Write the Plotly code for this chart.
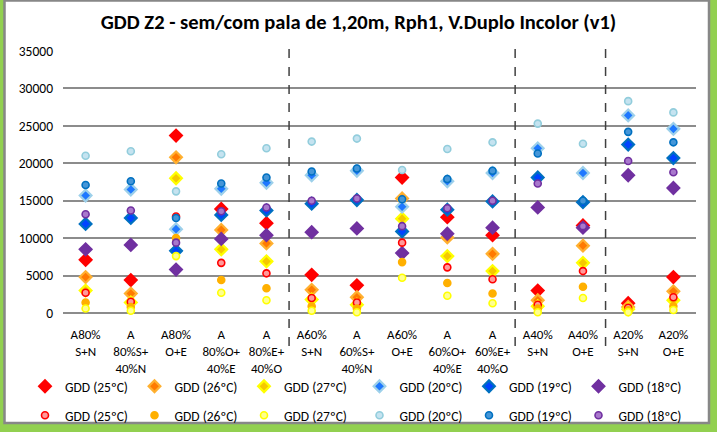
import plotly.graph_objects as go

categories = ["A80%<br>S+N", "A<br>80%S+<br>40%N", "A80%<br>O+E", "A<br>80%O+<br>40%E", "A<br>80%E+<br>40%O",
              "A60%<br>S+N", "A<br>60%S+<br>40%N", "A60%<br>O+E", "A<br>60%O+<br>40%E", "A<br>60%E+<br>40%O",
              "A40%<br>S+N", "A40%<br>O+E", "A20%<br>S+N", "A20%<br>O+E"]

# diamond series (sem pala)
d25 = [7100, 4400, 23700, 13900, 12000, 5100, 3700, 18100, 12800, 10400, 3000, 11700, 1300, 4800]
d26 = [4800, 2600, 20800, 11100, 9300, 3100, 2100, 15300, 10100, 7900, 1700, 9000, 800, 2900]
d27 = [3000, 1400, 18000, 8500, 6900, 1800, 1100, 12600, 7600, 5600, 900, 6700, 500, 1700]
d20 = [15700, 16500, 11200, 16600, 17400, 18400, 19000, 14200, 17600, 18700, 22000, 18700, 26400, 24600]
d19 = [11900, 12700, 8300, 13100, 13700, 14600, 15100, 10900, 13800, 14900, 18100, 14800, 22500, 20700]
d18 = [8500, 9100, 5800, 9900, 10400, 10800, 11300, 8000, 10600, 11400, 14100, 11400, 18400, 16700]
# circle series (com pala)
c25 = [2700, 1500, 12900, 6700, 5300, 2000, 1400, 9400, 6100, 4500, 1100, 5600, 700, 2100]
c26 = [1400, 800, 10000, 4400, 3300, 900, 600, 6800, 4000, 2600, 600, 3500, 350, 900]
c27 = [600, 300, 7600, 2700, 1700, 300, 100, 4700, 2300, 1300, 100, 2000, 100, 400]
c20 = [21000, 21600, 16250, 21200, 22000, 22900, 23300, 19100, 21900, 22800, 25300, 22600, 28300, 26800]
c19 = [17100, 17600, 12700, 17300, 18100, 18900, 19300, 15200, 17900, 19000, 21300, 15000, 24200, 22800]
c18 = [13200, 13700, 9400, 13600, 14100, 15000, 15300, 11600, 14000, 15000, 17300, 11600, 20300, 18800]

separators = [4.5, 9.5, 11.5]
y_ticks = [0, 5000, 10000, 15000, 20000, 25000, 30000, 35000]
legend_names = ["GDD (25ºC)", "GDD (26ºC)", "GDD (27ºC)", "GDD (20ºC)", "GDD (19ºC)", "GDD (18ºC)"]

FONT = "Carlito, Calibri, Lato, sans-serif"
xs = list(range(len(categories)))

fig = go.Figure()

diamond_styles = [("#FF0000", "#FF0000"), ("#FF7A00", "#FFB030"), ("#F5C800", "#FFFF00"),
                  ("#1E78FF", "#9DD0EA"), ("#0044FF", "#0070C0"), ("#7030A0", "#7030A0")]
circle_styles = [("#FF9A9A", "#FF0000"), ("#FFB000", "#FFB000"), ("#FFFF90", "#FFFF00"),
                 ("#C5E3F0", "#92CDDC"), ("#4596D8", "#0070C0"), ("#A878CC", "#7030A0")]

diamond_vals = [d25, d26, d27, d20, d19, d18]
circle_vals = [c25, c26, c27, c20, c19, c18]

for i, (vals, name, (fill, line)) in enumerate(zip(diamond_vals, legend_names, diamond_styles)):
    fig.add_trace(go.Scatter(x=xs, y=vals, mode="markers", name=name, cliponaxis=False,
                             marker=dict(symbol="diamond", size=9, color=fill,
                                         line=dict(color=line, width=2.2)),
                             legend="legend" if i < 3 else "legend2"))
for i, (vals, name, (fill, line)) in enumerate(zip(circle_vals, legend_names, circle_styles)):
    fig.add_trace(go.Scatter(x=xs, y=vals, mode="markers", name=name, cliponaxis=False,
                             marker=dict(symbol="circle", size=7, color=fill,
                                         line=dict(color=line, width=1.6)),
                             legend="legend3" if i < 3 else "legend4"))

# chart area white box with gray border
W, H = 633, 262
L, T = 63, 51
def px2x(p):
    return (p - L) / W
def py2y(p):
    return (T + H - p) / H

fig.add_shape(type="rect", xref="paper", yref="paper",
              x0=px2x(4.5), x1=px2x(709), y0=py2y(423), y1=py2y(0.5),
              fillcolor="white", line=dict(color="#878787", width=2.5), layer="below")

for s in separators:
    fig.add_shape(type="line", xref="x", yref="paper", x0=s, x1=s,
                  y0=py2y(346), y1=py2y(43),
                  line=dict(color="#404040", width=1.5, dash="dash"))

def leg(xpx, ypx):
    return dict(orientation="h", x=xpx / 717, xref="container", xanchor="left",
                y=1 - ypx / 432, yref="container", yanchor="top",
                entrywidth=64.5, entrywidthmode="pixels", bgcolor="rgba(0,0,0,0)",
                font=dict(size=13.5), itemclick=False, itemdoubleclick=False)

LX = 25
STEP = 3 * 111.5
fig.update_layout(
    width=717, height=432,
    margin=dict(l=L, r=717 - L - W, t=T, b=432 - T - H),
    paper_bgcolor="#92D050",
    plot_bgcolor="rgba(0,0,0,0)",
    font=dict(family=FONT, color="#000000", size=13),
    title=dict(text="<b>GDD Z2 - sem/com pala de 1,20m, Rph1, V.Duplo Incolor (v1)</b>",
               x=0.5, xref="container", xanchor="center",
               y=1 - 22 / 432, yref="container", yanchor="middle",
               font=dict(family=FONT, size=20.5, color="#000000")),
    xaxis=dict(range=[-0.5, len(categories) - 0.5], tickvals=xs, ticktext=categories,
               showgrid=False, zeroline=False, showline=False, ticks="", automargin=False,
               tickfont=dict(size=13), ticklabelstandoff=12, fixedrange=True),
    yaxis=dict(range=[0, 35000], tickvals=y_ticks, ticktext=[str(v) for v in y_ticks],
               showgrid=True, gridcolor="#8C8C8C", gridwidth=2, automargin=False,
               zeroline=True, zerolinecolor="#8C8C8C", zerolinewidth=2,
               showline=False, ticks="", tickfont=dict(size=13.5), ticklabelstandoff=9,
               fixedrange=True),
    legend=leg(LX, 371),
    legend2=leg(LX + STEP, 371),
    legend3=leg(LX, 400),
    legend4=leg(LX + STEP, 400),
    showlegend=True,
)

fig.write_html("out.html", config={"displayModeBar": False},
               post_script="document.body.style.margin='0';document.body.style.padding='0';")
